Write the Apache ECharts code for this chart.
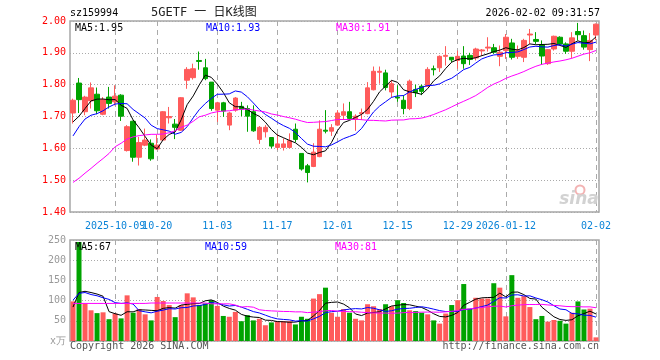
<!DOCTYPE html>
<html><head><meta charset="utf-8">
<script src="https://cdn.jsdelivr.net/npm/echarts@6/dist/echarts.min.js"></script>
<style>html,body{margin:0;padding:0;background:#fff}#c{width:660px;height:360px}</style>
</head><body><div id="c"></div>
<script>
const dates = ['2025-09-22','2025-09-23','2025-09-24','2025-09-25','2025-09-26','2025-09-29','2025-09-30','2025-10-09','2025-10-10','2025-10-13',
'2025-10-14','2025-10-15','2025-10-16','2025-10-17','2025-10-20','2025-10-21','2025-10-22','2025-10-23','2025-10-24','2025-10-27',
'2025-10-28','2025-10-29','2025-10-30','2025-10-31','2025-11-03','2025-11-04','2025-11-05','2025-11-06','2025-11-07','2025-11-10',
'2025-11-11','2025-11-12','2025-11-13','2025-11-14','2025-11-17','2025-11-18','2025-11-19','2025-11-20','2025-11-21','2025-11-24',
'2025-11-25','2025-11-26','2025-11-27','2025-11-28','2025-12-01','2025-12-02','2025-12-03','2025-12-04','2025-12-05','2025-12-08',
'2025-12-09','2025-12-10','2025-12-11','2025-12-12','2025-12-15','2025-12-16','2025-12-17','2025-12-18','2025-12-19','2025-12-22',
'2025-12-23','2025-12-24','2025-12-25','2025-12-26','2025-12-29','2025-12-30','2025-12-31','2026-01-05','2026-01-06','2026-01-07',
'2026-01-08','2026-01-09','2026-01-12','2026-01-13','2026-01-14','2026-01-15','2026-01-16','2026-01-19','2026-01-20','2026-01-21',
'2026-01-22','2026-01-23','2026-01-26','2026-01-27','2026-01-28','2026-01-29','2026-01-30','2026-02-02'];

const opens = [1.711,1.805,1.715,1.749,1.770,1.707,1.761,1.746,1.767,1.593,
1.685,1.572,1.610,1.616,1.598,1.626,1.696,1.676,1.657,1.814,
1.822,1.876,1.853,1.808,1.720,1.743,1.673,1.720,1.732,1.725,
1.715,1.628,1.652,1.634,1.603,1.603,1.603,1.660,1.584,1.545,
1.543,1.574,1.657,1.654,1.673,1.704,1.715,1.691,1.709,1.709,
1.784,1.839,1.837,1.777,1.761,1.751,1.725,1.785,1.795,1.795,
1.850,1.853,1.889,1.886,1.876,1.890,1.892,1.884,1.906,1.915,
1.916,1.889,1.907,1.931,1.889,1.886,1.956,1.942,1.925,1.866,
1.912,1.949,1.928,1.905,1.967,1.954,1.910,1.956];

const closes = [1.751,1.753,1.761,1.790,1.718,1.753,1.741,1.764,1.701,1.668,
1.572,1.618,1.626,1.567,1.610,1.715,1.700,1.666,1.759,1.848,
1.850,1.873,1.819,1.725,1.743,1.717,1.711,1.758,1.723,1.701,
1.655,1.666,1.666,1.607,1.614,1.614,1.624,1.628,1.535,1.524,
1.588,1.660,1.654,1.665,1.711,1.715,1.694,1.701,1.712,1.790,
1.842,1.842,1.791,1.803,1.758,1.725,1.811,1.775,1.779,1.848,
1.847,1.889,1.892,1.878,1.889,1.866,1.879,1.912,1.909,1.918,
1.902,1.902,1.949,1.886,1.907,1.939,1.959,1.936,1.890,1.910,
1.952,1.928,1.905,1.947,1.957,1.918,1.939,1.990];

const lows = [1.678,1.711,1.704,1.725,1.707,1.704,1.725,1.735,1.686,1.590,
1.558,1.546,1.607,1.561,1.595,1.624,1.678,1.629,1.655,1.787,
1.816,1.847,1.814,1.718,1.683,1.699,1.657,1.715,1.701,1.652,
1.652,1.614,1.634,1.600,1.595,1.593,1.600,1.619,1.530,1.493,
1.541,1.572,1.647,1.639,1.670,1.689,1.689,1.655,1.689,1.707,
1.782,1.803,1.782,1.759,1.746,1.707,1.720,1.761,1.767,1.793,
1.829,1.840,1.860,1.871,1.850,1.850,1.862,1.876,1.890,1.904,
1.897,1.858,1.881,1.879,1.881,1.871,1.928,1.928,1.862,1.862,
1.907,1.925,1.897,1.884,1.939,1.910,1.874,1.940];

const highs = [1.756,1.821,1.765,1.807,1.791,1.761,1.793,1.798,1.770,1.673,
1.687,1.636,1.662,1.628,1.642,1.717,1.730,1.692,1.761,1.855,
1.866,1.904,1.881,1.808,1.746,1.746,1.715,1.761,1.746,1.735,
1.735,1.670,1.673,1.634,1.645,1.631,1.647,1.678,1.584,1.551,
1.616,1.688,1.720,1.676,1.720,1.741,1.746,1.707,1.725,1.808,
1.857,1.857,1.847,1.814,1.798,1.767,1.816,1.800,1.800,1.855,
1.860,1.892,1.921,1.886,1.907,1.921,1.900,1.916,1.912,1.949,
1.928,1.923,1.959,1.944,1.923,1.944,1.975,1.965,1.939,1.912,
1.954,1.952,1.933,1.965,1.994,1.970,1.962,1.992];

const volumes = [98,245,93,76,69,71,54,68,56,113,
70,79,66,51,109,99,89,59,89,118,
108,89,93,101,87,62,60,72,49,64,
51,55,39,46,49,49,49,41,60,55,
105,116,132,70,60,79,70,55,51,91,
86,79,91,86,101,94,76,74,70,66,
51,43,68,89,101,141,80,107,105,105,
143,132,61,163,107,111,84,54,62,48,
52,50,43,70,98,78,80,9];

// moving-average values at the start of the window (earlier history not shown)
const ma5Head = [1.683,1.701,1.725,1.749];
const ma10Head = [1.639,1.668,1.692,1.704,1.709,1.718,1.730,1.739,1.741];
const ma30Head = [1.493,1.506,1.522,1.537,1.553,1.568,1.584,1.605,1.616,1.629,1.636,1.640,1.642,1.644,1.644,1.645,1.649,1.655,1.666,1.673,1.685,1.699,1.704,1.711,1.715,1.717,1.718,1.721,1.722];
const volMa5Head = [84,120,123,120];
const volMa10Head = [101,118,120,115,112,107,103,95,93];
const volMa30Head = [93,93,93,93,93,93,93,93,93,93,93,93,93,94,94,94,94,94,94,94,94,94,94,92,92,92,92,89,84];

const tickDates = ['2025-10-09','2025-10-20','2025-11-03','2025-11-17','2025-12-01','2025-12-15','2025-12-29','2026-01-12','2026-02-02'];
const tickLabels = ['2025-10-09','10-20','11-03','11-17','12-01','12-15','12-29','2026-01-12','02-02'];
const priceMaLabels = ['MA5:1.95','MA10:1.93','MA30:1.91'];
const volMaLabels = ['MA5:67','MA10:59','MA30:81'];
const volUnit = 'x万';

const RED = '#ff5b5b', GREEN = '#00a300';
const MONO = "'DejaVu Sans Mono', monospace";
const GRIDC = '#aaaaaa';

function ma(values, n, head) {
  return values.map((v, i) => {
    if (i < head.length) return head[i];
    let s = 0;
    for (let k = i - n + 1; k <= i; k++) s += values[k];
    return +(s / n).toFixed(4);
  });
}

const candleData = dates.map((d, i) => [opens[i], closes[i], lows[i], highs[i]]);
const volData = volumes.map((v, i) => ({ value: v, itemStyle: { color: closes[i] >= opens[i] ? RED : GREEN } }));

// the date labels are split over two axes so that the overlapping pair (10-09 / 10-20) both show
const labelSetA = tickDates.filter((d, k) => k !== 1);
const labelSetB = [tickDates[1]];

const chart = echarts.init(document.getElementById('c'));
const lineS = (name, data, color, xi, yi) => ({
  name, type: 'line', data, xAxisIndex: xi, yAxisIndex: yi, showSymbol: false, symbol: 'none',
  lineStyle: { color, width: 1 }, silent: true, z: 4, animation: false
});
const vSplit = { show: true, interval: (i, v) => tickDates.includes(dates[i]), alignWithLabel: true,
  lineStyle: { color: GRIDC, type: [5, 4], width: 1 } };
const labelAxis = (set, split) => ({
  type: 'category', data: dates, gridIndex: 0, boundaryGap: true, position: 'bottom', offset: 0,
  axisLine: { show: false }, axisTick: { show: false },
  splitLine: split ? vSplit : { show: false },
  axisLabel: { interval: (i, v) => set.includes(v), formatter: v => tickLabels[tickDates.indexOf(v)],
    hideOverlap: false, showMinLabel: true, showMaxLabel: true,
    color: '#0b84d8', fontFamily: MONO, fontSize: 10, margin: 9 }
});
const txt = (text, x, y, fill, align, font) => ({
  type: 'text', x, y, silent: true, z: 100,
  style: { text, fill, font: font || ("10px " + MONO), textAlign: align || 'left', align: align || 'left', textVerticalAlign: 'middle', verticalAlign: 'middle' }
});

chart.setOption({
  animation: false,
  backgroundColor: '#fff',
  grid: [
    { left: 70, right: 61, top: 21, height: 191, show: true, borderColor: '#a6a6a6', borderWidth: 1.5 },
    { left: 70, right: 61, top: 240, height: 101, show: true, borderColor: '#a6a6a6', borderWidth: 1.5 }
  ],
  xAxis: [
    labelAxis(labelSetA, true),
    { type: 'category', data: dates, gridIndex: 1, boundaryGap: true,
      axisLine: { show: false }, axisTick: { show: false }, splitLine: vSplit,
      axisLabel: { show: false, interval: (i, v) => tickDates.includes(v) } },
    labelAxis(labelSetB, false)
  ],
  yAxis: [
    { type: 'value', gridIndex: 0, min: 1.4, max: 2.0, interval: 0.1,
      axisLine: { show: false }, axisTick: { show: false },
      axisLabel: { color: '#ff0000', fontFamily: MONO, fontSize: 10, margin: 4, formatter: v => v.toFixed(2) },
      splitLine: { lineStyle: { color: GRIDC, type: [1, 2], width: 1 } } },
    { type: 'value', gridIndex: 1, min: 0, max: 250, interval: 50,
      axisLine: { show: false }, axisTick: { show: false },
      axisLabel: { color: '#999999', fontFamily: MONO, fontSize: 10, margin: 4, formatter: v => v === 0 ? volUnit : String(v) },
      splitLine: { lineStyle: { color: GRIDC, type: [1, 2], width: 1 } } }
  ],
  series: [
    { type: 'candlestick', data: candleData, xAxisIndex: 0, yAxisIndex: 0, barWidth: 5, z: 3,
      itemStyle: { color: RED, color0: GREEN, borderColor: RED, borderColor0: GREEN, borderWidth: 1 } },
    lineS('MA5', ma(closes, 5, ma5Head), '#000000', 0, 0),
    lineS('MA10', ma(closes, 10, ma10Head), '#0000ff', 0, 0),
    lineS('MA30', ma(closes, 30, ma30Head), '#ff00ff', 0, 0),
    { type: 'bar', data: volData, xAxisIndex: 1, yAxisIndex: 1, barWidth: 5, z: 3 },
    lineS('VMA5', ma(volumes, 5, volMa5Head), '#000000', 1, 1),
    lineS('VMA10', ma(volumes, 10, volMa10Head), '#0000ff', 1, 1),
    lineS('VMA30', ma(volumes, 30, volMa30Head), '#ff00ff', 1, 1)
  ],
  graphic: [
    txt('sz159994', 70, 13, '#000'),
    txt('5GETF 一 日K线图', 151, 13, '#222', 'left', "12px 'DejaVu Sans Mono', 'Noto Sans CJK SC'"),
    txt('2026-02-02 09:31:57', 600, 13, '#000', 'right'),
    txt(priceMaLabels[0], 75, 28, '#000'),
    txt(priceMaLabels[1], 206, 28, '#0000ff'),
    txt(priceMaLabels[2], 336, 28, '#ff00ff'),
    txt(volMaLabels[0], 75, 247, '#000'),
    txt(volMaLabels[1], 205, 247, '#0000ff'),
    txt(volMaLabels[2], 335, 247, '#ff00ff'),
    txt('Copyright 2026 SINA.COM', 70, 346, '#555'),
    txt('http://finance.sina.com.cn', 599, 346, '#555', 'right'),
    { type: 'circle', silent: true, z: 100, shape: { cx: 580, cy: 190, r: 4.5 }, style: { fill: 'none', stroke: '#f3b3b3', lineWidth: 2 } },
    txt('sina', 579, 200, '#d2d2d2', 'center', "italic bold 17px 'DejaVu Sans', sans-serif")
  ]
});
</script>
</body></html>
